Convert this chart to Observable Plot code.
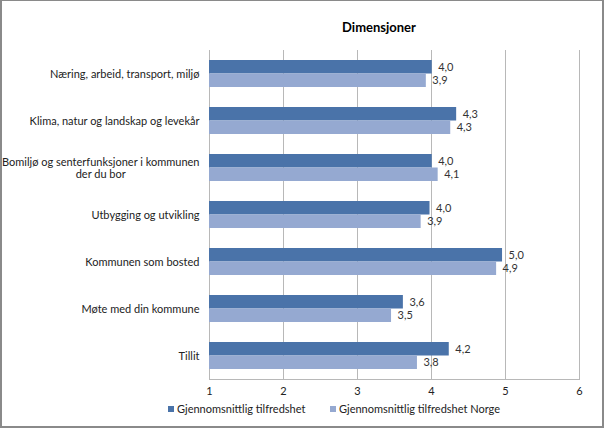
<!DOCTYPE html>
<html>
<head>
<meta charset="utf-8">
<script src="https://cdn.jsdelivr.net/npm/d3@7"></script>
<script src="https://cdn.jsdelivr.net/npm/@observablehq/plot@0.6"></script>
<style>
  body { margin: 0; background: #fff; }
  #frame { position: relative; width: 604px; height: 428px; overflow: hidden; background: #fff; font-family: Lato, "Open Sans", sans-serif; }
  #border { position: absolute; left: 0; top: 0; width: 604px; height: 428px; box-sizing: border-box; border: 2px solid #8a8a8a; border-top-width: 1px; pointer-events: none; }
  #title { position: absolute; left: 279px; top: 19px; width: 200px; text-align: center; font-weight: bold; font-size: 13px; color: #000; }
  #chart { position: absolute; left: 0; top: 0; }
  .leg { position: absolute; top: 402px; font-size: 11px; color: #222; white-space: nowrap; line-height: 14px; }
  .sw { display: inline-block; width: 6px; height: 6px; margin-right: 3px; vertical-align: 1px; }
</style>
</head>
<body>
<div id="frame">
  <div id="chart"></div>
  <div id="title"></div>
  <div id="legend"></div>
  <div id="border"></div>
</div>
<script>
const title = "Dimensjoner";
const categories = [
  "Næring, arbeid, transport, miljø",
  "Klima, natur og landskap og levekår",
  "Bomiljø og senterfunksjoner i kommunen\nder du bor",
  "Utbygging og utvikling",
  "Kommunen som bosted",
  "Møte med din kommune",
  "Tillit"
];
const seriesNames = ["Gjennomsnittlig tilfredshet", "Gjennomsnittlig tilfredshet Norge"];
const valuesKommune = [4.01, 4.34, 4.01, 3.98, 4.96, 3.62, 4.24];
const valuesNorge = [3.93, 4.26, 4.09, 3.86, 4.88, 3.46, 3.81];
const xTicks = [1, 2, 3, 4, 5, 6];
const colors = ["#4a73a9", "#95a9d1"];

const rowsK = categories.map((c, i) => ({cat: c, series: seriesNames[0], value: valuesKommune[i]}));
const rowsN = categories.map((c, i) => ({cat: c, series: seriesNames[1], value: valuesNorge[i]}));
const fmt = d => d3.format(".1f")(d.value).replace(".", ",");

const half = 13.5;
const chart = Plot.plot({
  width: 604,
  height: 400,
  marginTop: 50,
  marginBottom: 21,
  marginLeft: 209,
  marginRight: 25,
  style: {fontFamily: "Lato, 'Open Sans', sans-serif", fontSize: "11px", color: "#222", background: "transparent"},
  x: {domain: [1, 6], ticks: xTicks, tickFormat: d3.format("d")},
  y: {domain: categories, paddingInner: 0.426, paddingOuter: 0.213},
  marks: [
    Plot.ruleX(xTicks, {stroke: "#b8b8b8", strokeWidth: 1}),
    Plot.frame({anchor: "bottom", stroke: "#b8b8b8"}),
    Plot.barX(rowsK, {x1: 1, x2: "value", y: "cat", fill: colors[0], insetBottom: half}),
    Plot.barX(rowsN, {x1: 1, x2: "value", y: "cat", fill: colors[1], insetTop: half}),
    Plot.text(rowsK, {x: "value", y: "cat", text: fmt, dx: 6, dy: -half / 2, textAnchor: "start", fill: "#333"}),
    Plot.text(rowsN, {x: "value", y: "cat", text: fmt, dx: 6, dy: half / 2, textAnchor: "start", fill: "#333"}),
    Plot.axisX({ticks: xTicks, tickFormat: d3.format("d"), tickSize: 0, tickPadding: 8, label: null, fill: "#222"}),
    Plot.axisY({tickSize: 0, tickPadding: 10, label: null, lineWidth: Infinity, lineHeight: 1.15, fill: "#222"})
  ]
});
document.getElementById("chart").appendChild(chart);
document.getElementById("title").textContent = title;

// center multi-line category labels like the original
chart.querySelectorAll("text").forEach(t => {
  const spans = t.querySelectorAll("tspan");
  if (spans.length > 1) {
    let maxW = 0;
    spans.forEach(s => { maxW = Math.max(maxW, s.getComputedTextLength()); });
    t.setAttribute("text-anchor", "middle");
    spans.forEach(s => s.setAttribute("x", -maxW / 2));
  }
});

const legend = document.getElementById("legend");
const legendLeft = [168, 330];
seriesNames.forEach((name, i) => {
  const d = document.createElement("div");
  d.className = "leg";
  d.style.left = legendLeft[i] + "px";
  const sw = document.createElement("span");
  sw.className = "sw";
  sw.style.background = colors[i];
  d.appendChild(sw);
  d.appendChild(document.createTextNode(name));
  legend.appendChild(d);
});
</script>
</body>
</html>
